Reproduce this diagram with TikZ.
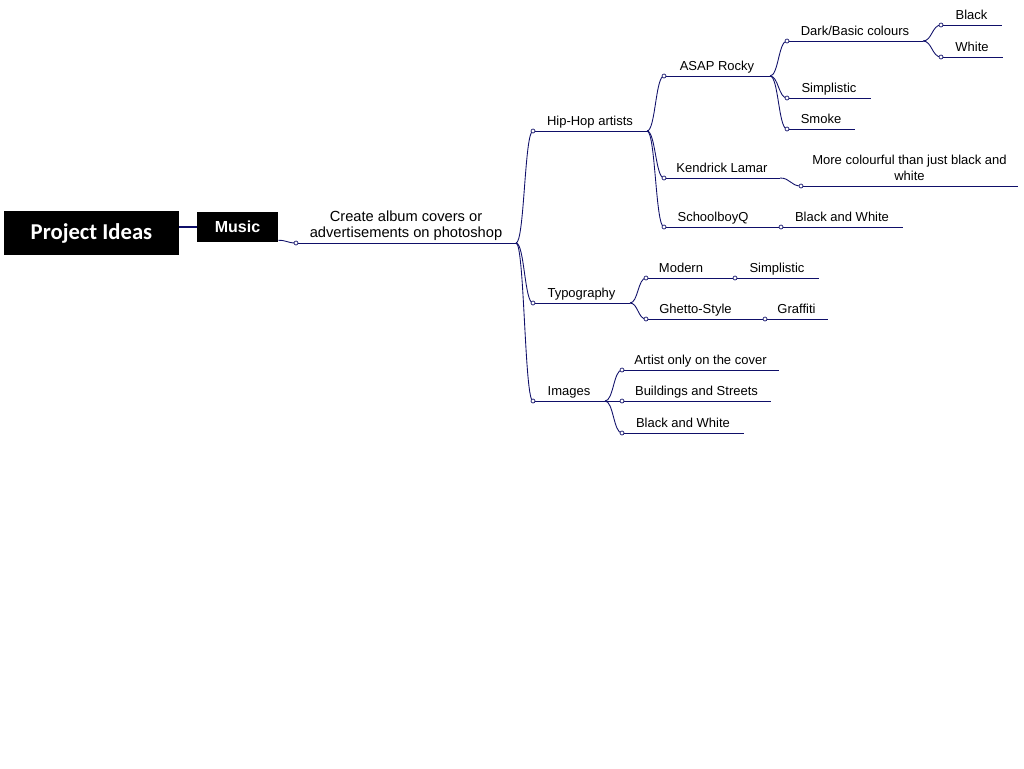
\documentclass[tikz,border=0pt]{standalone}
\usepackage{fontspec}
\setmainfont{Liberation Sans}
\newfontfamily\pifont{Carlito}
\usetikzlibrary{calc}
\definecolor{linkblue}{RGB}{15,15,105}
\tikzset{
 link/.style={draw=linkblue, line width=0.65pt,
   to path={.. controls ($(\tikztostart)!0.5!(\tikztotarget|-\tikztostart)$) and ($(\tikztotarget)!0.5!(\tikztostart|-\tikztotarget)$) .. (\tikztotarget)}},
 under/.style={draw=linkblue, line width=0.65pt},
 lbl/.style={anchor=south, inner sep=0pt, font=\fontsize{9.75}{12}\selectfont, align=center, execute at end node=\strut},
 rootlbl/.style={lbl, font=\fontsize{11}{12}\selectfont},
 knob/.style={circle, draw=linkblue, fill=white, line width=0.5pt, inner sep=0pt, minimum size=3pt},
 blackbox/.style={fill=black, text=white, inner sep=0pt},
}
\newcommand\topic[7][lbl]{%
  \coordinate (#3s) at (#4,#6);
  \coordinate (#3e) at (#5,#6);
  \draw[link] (#2) to (#3s);
  \draw[under] (#3s) -- (#3e);
  \node[knob] (#3k) at (#3s) {};
  \node[#1] (#3) at ($(#3s)!0.5!(#3e)$) {#7};
}
\begin{document}
\begin{tikzpicture}[x=0.75pt,y=-0.75pt]
\useasboundingbox[fill=white] (0,0) rectangle (1024,768);
\node[blackbox, minimum width=131.25pt, minimum height=33pt, font=\pifont\bfseries\fontsize{17}{20}\selectfont] (pi) at (91.5,233) {Project Ideas};
\node[blackbox, minimum width=60.75pt, minimum height=22.5pt, font=\bfseries\fontsize{12}{14}\selectfont] (music) at (237.5,227) {Music};
\draw[linkblue, line width=2.2pt] (pi.east |- music.west) -- (music.west);
\coordinate (musicOut) at ([yshift=1.5pt]music.south east);

\topic[rootlbl]{musicOut}{create}{296}{516}{243}{Create album covers or\\advertisements on photoshop}

\topic{createe}{hiphop}{533}{647}{131}{Hip-Hop artists}
\topic{createe}{typo}{533}{630}{303}{Typography}
\topic{createe}{images}{533}{605}{401}{Images}

\topic{hiphope}{asap}{664}{770}{76}{ASAP Rocky}
\topic{hiphope}{kendrick}{664}{780}{178}{Kendrick Lamar}
\topic{hiphope}{school}{664}{762}{227}{SchoolboyQ}

\topic{asape}{dark}{787}{923}{41}{Dark/Basic colours}
\topic{asape}{simpA}{787}{871}{98}{Simplistic}
\topic{asape}{smoke}{787}{855}{129}{Smoke}

\topic{darke}{black}{941}{1002}{25}{Black}
\topic{darke}{white}{941}{1003}{57}{White}

\topic{kendricke}{colourful}{801}{1018}{186}{More colourful than just black and\\white}
\topic{schoole}{bwA}{781}{903}{227}{Black and White}

\topic{typoe}{modern}{646}{716}{278}{Modern}
\topic{typoe}{ghetto}{646}{745}{319}{Ghetto-Style}
\topic{moderne}{simpB}{735}{819}{278}{Simplistic}
\topic{ghettoe}{graffiti}{765}{828}{319}{Graffiti}

\topic{imagese}{artist}{622}{779}{370}{Artist only on the cover}
\topic{imagese}{buildings}{622}{771}{401}{Buildings and Streets}
\topic{imagese}{bwB}{622}{744}{433}{Black and White}
\end{tikzpicture}
\end{document}
